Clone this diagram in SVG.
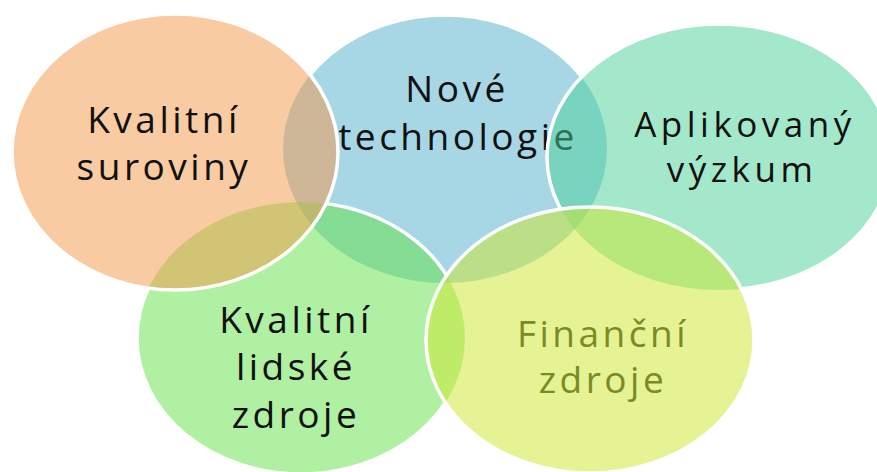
<svg xmlns="http://www.w3.org/2000/svg" xmlns:xlink="http://www.w3.org/1999/xlink" width="877" height="472" viewBox="0 0 877 472">
<style>
.f{fill-opacity:0.5;stroke:none}
.s{fill:none;stroke:#fff;stroke-width:3.5}
text{font-family:"Open Sans","DejaVu Sans",sans-serif;font-size:37px;fill:#111;text-anchor:middle;letter-spacing:3.5px}
.sm{font-size:35px;letter-spacing:4.5px}
.ol{fill:#7a8b25}
</style>
<defs>
<ellipse id="e-blue" cx="445" cy="149" rx="162" ry="134"/>
<ellipse id="e-green" cx="301" cy="338" rx="164" ry="136"/>
<ellipse id="e-orange" cx="175" cy="152" rx="163" ry="138"/>
<ellipse id="e-teal" cx="719" cy="157" rx="172" ry="133"/>
<ellipse id="e-yellow" cx="590" cy="340" rx="164" ry="133"/>
<mask id="m-blue" maskUnits="userSpaceOnUse" x="0" y="0" width="877" height="472">
<rect width="877" height="472" fill="#fff"/>
<use xlink:href="#e-green" fill="#000"/><use xlink:href="#e-orange" fill="#000"/><use xlink:href="#e-teal" fill="#000"/><use xlink:href="#e-yellow" fill="#000"/>
</mask>
<mask id="m-green" maskUnits="userSpaceOnUse" x="0" y="0" width="877" height="472">
<rect width="877" height="472" fill="#fff"/>
<use xlink:href="#e-orange" fill="#000"/><use xlink:href="#e-yellow" fill="#000"/>
</mask>
<mask id="m-teal" maskUnits="userSpaceOnUse" x="0" y="0" width="877" height="472">
<rect width="877" height="472" fill="#fff"/>
<use xlink:href="#e-yellow" fill="#000"/>
</mask>
</defs>
<rect width="877" height="472" fill="#fff"/>
<g id="connectors"/>
<g id="node-nove-technologie">
<use xlink:href="#e-blue" class="f" fill="#4fb0cb"/>
<use xlink:href="#e-blue" class="s" mask="url(#m-blue)"/>
<text x="457" y="102">Nové</text>
<text x="458" y="150">technologie</text>
</g>
<g id="node-kvalitni-lidske-zdroje">
<use xlink:href="#e-green" class="f" fill="#61e145"/>
<use xlink:href="#e-green" class="s" mask="url(#m-green)"/>
<text x="296" y="333">Kvalitní</text>
<text x="296" y="380">lidské</text>
<text x="296" y="428">zdroje</text>
</g>
<g id="node-kvalitni-suroviny">
<use xlink:href="#e-orange" class="f" fill="#f39747"/>
<use xlink:href="#e-orange" class="s"/>
<text x="164" y="133">Kvalitní</text>
<text x="164" y="180">suroviny</text>
</g>
<g id="node-aplikovany-vyzkum">
<use xlink:href="#e-teal" class="f" fill="#49d197"/>
<use xlink:href="#e-teal" class="s" mask="url(#m-teal)"/>
<text x="745" y="137" class="sm">Aplikovaný</text>
<text x="742" y="182" class="sm">výzkum</text>
</g>
<g id="node-financni-zdroje">
<use xlink:href="#e-yellow" class="f" fill="#cde729"/>
<use xlink:href="#e-yellow" class="s"/>
<text x="603" y="347" class="ol">Finanční</text>
<text x="603" y="393" class="ol">zdroje</text>
</g>
</svg>
